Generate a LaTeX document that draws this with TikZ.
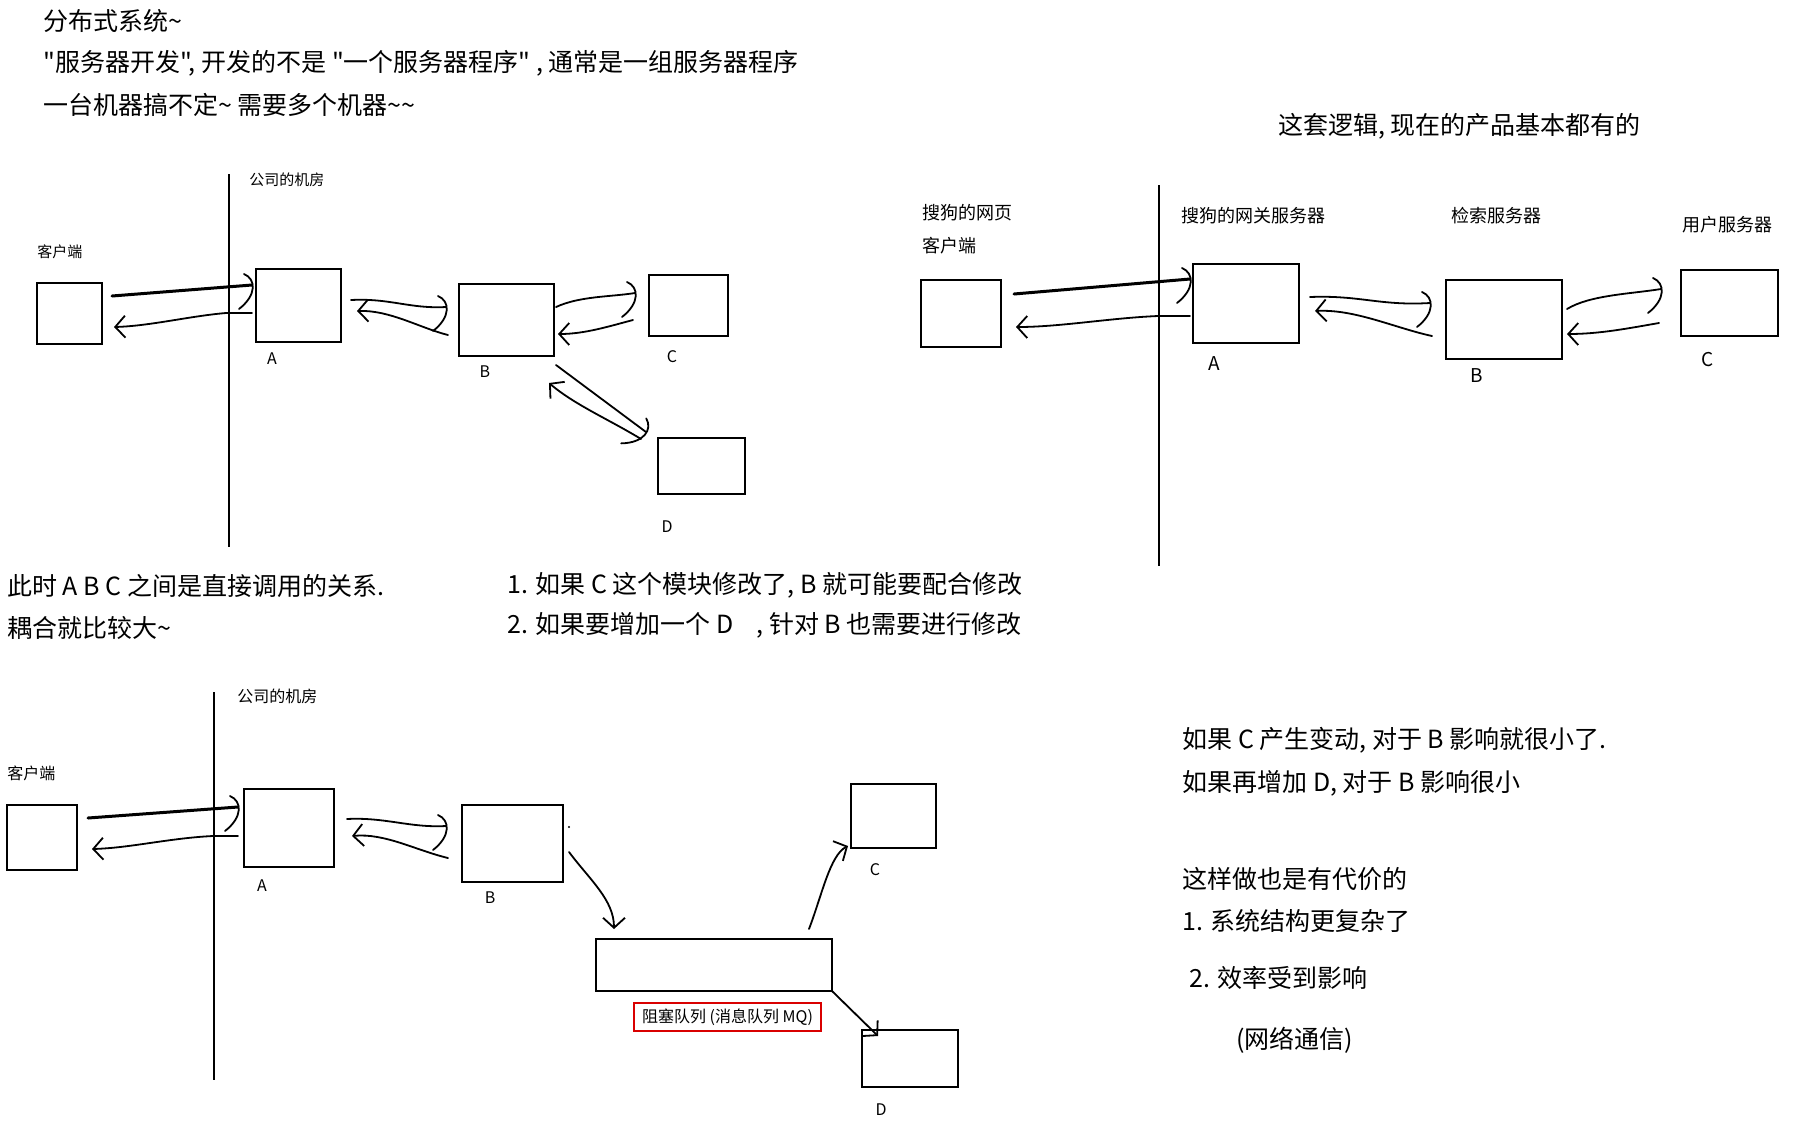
\documentclass[tikz,border=0pt]{standalone}
\usepackage{fontspec}
\setmainfont{Noto Sans CJK SC}[Ligatures=TeXOff]
\usetikzlibrary{arrows.meta}
\newcommand{\qq}{\char"22\relax}
\tikzset{
  bx/.style={draw, line width=1.2pt, inner sep=0pt, outer sep=0pt},
  sz/.style 2 args={minimum width=#1*0.5pt, minimum height=#2*0.5pt},
  lbl/.style={inner sep=0pt, anchor=west},
  big/.style={lbl, font=\fontsize{12.5}{14}\selectfont},
  smA/.style={lbl, font=\fontsize{7.5}{9}\selectfont},
  smB/.style={lbl, font=\fontsize{9}{11}\selectfont},
  smC/.style={lbl, font=\fontsize{8}{10}\selectfont},
  let/.style={inner sep=0pt, font=\fontsize{8}{10}\selectfont},
  wall/.style={line width=1.4pt},
  wire/.style={line width=0.9pt, line cap=round},
  fat/.style={line width=1.5pt, line cap=round},
  barb/.style={-{Straight Barb[length=5pt, width=11pt, line width=0.9pt]}},
  brk/.pic={\draw[wire] (-8,-11) .. controls (4,-6) and (5,10) .. (-13,24);},
}
\begin{document}
\begin{tikzpicture}[x=0.5pt, y=-0.5pt]
\useasboundingbox (0,0) rectangle (1794,1131);
\fill[white] (0,0) rectangle (1794,1131);

% ---------- top texts ----------
\node[big] (t1) at (43,21) {分布式系统\textasciitilde};
\node[big] (t2) at (43,63) {\qq 服务器开发\qq, 开发的不是 \qq 一个服务器程序\qq\ , 通常是一组服务器程序};
\node[big] (t3) at (43,105) {一台机器搞不定\textasciitilde{} 需要多个机器\textasciitilde\textasciitilde};
\node[big] (t4) at (1278,126) {这套逻辑, 现在的产品基本都有的};

% ---------- top-left diagram ----------
\coordinate (tlw1) at (229,174); \coordinate (tlw2) at (229,547);
\draw[wall] (tlw1) -- (tlw2);
\node[smA] (tlroom) at (249,180) {公司的机房};
\node[smA] (tlcli) at (37,252) {客户端};
\node[bx, sz={65}{61}] (tlK) at (69.5,313.5) {};
\node[bx, sz={85}{73}] (tlA) at (298.5,305.5) {};
\node[bx, sz={95}{72}] (tlB) at (506.5,320) {};
\node[bx, sz={79}{61}] (tlC) at (688.5,305.5) {};
\node[bx, sz={87}{56}] (tlD) at (701.5,466) {};
\node[let] (tlAl) at (272,359) {A};
\node[let] (tlBl) at (485,372) {B};
\node[let] (tlCl) at (672,357) {C};
\node[let] (tlDl) at (667,527) {D};

\coordinate (a1) at (112,296); \coordinate (a2) at (252,285);
\draw[fat] (a1) -- (a2); \pic at (a2) {brk};
\coordinate (a3) at (252,313); \coordinate (a4) at (114,327);
\draw[wire, barb] (a3) -- (226,313) .. controls (190,316) and (150,326) .. (a4);
\coordinate (a5) at (351,300); \coordinate (a6) at (446,307);
\draw[wire] (a5) .. controls (390,298) and (410,309) .. (a6); \pic at (a6) {brk};
\coordinate (a7) at (448,335); \coordinate (a8) at (357,311);
\draw[wire, barb] (a7) .. controls (420,328) and (390,310) .. (a8);
\coordinate (a9) at (556,307); \coordinate (a10) at (635,293);
\draw[wire] (a9) .. controls (580,296) and (610,297) .. (a10); \pic at (a10) {brk};
\coordinate (a11) at (633,320); \coordinate (a12) at (558,334);
\draw[wire, barb] (a11) .. controls (610,326) and (585,334) .. (a12);
\coordinate (a13) at (556,365); \coordinate (a14) at (646,432);
\draw[wire] (a13) -- (a14); \pic[rotate=-37] at (a14) {brk};
\coordinate (a15) at (641,439); \coordinate (a16) at (549,383);
\draw[wire, barb] (a15) .. controls (610,420) and (575,405) .. (a16);

% ---------- top-right diagram ----------
\coordinate (trw1) at (1159,185); \coordinate (trw2) at (1159,566);
\draw[wall] (trw1) -- (trw2);
\node[smB] (trpage) at (922,213) {搜狗的网页};
\node[smB] (trcli) at (922,246) {客户端};
\node[smB] (trgw) at (1181,216) {搜狗的网关服务器};
\node[smB] (trse) at (1451,216) {检索服务器};
\node[smB] (trus) at (1682,225) {用户服务器};
\node[bx, sz={80}{67}] (trK) at (961,313.5) {};
\node[bx, sz={106}{79}] (trA) at (1246,303.5) {};
\node[bx, sz={116}{79}] (trB) at (1504,319.5) {};
\node[bx, sz={97}{66}] (trC) at (1729.5,303) {};
\node[let, font=\fontsize{9.5}{11}\selectfont] (trAl) at (1214,364) {A};
\node[let, font=\fontsize{9.5}{11}\selectfont] (trBl) at (1477,376) {B};
\node[let, font=\fontsize{9.5}{11}\selectfont] (trCl) at (1708,360) {C};

\coordinate (b1) at (1014,294); \coordinate (b2) at (1190,279);
\draw[fat] (b1) -- (b2); \pic at (b2) {brk};
\coordinate (b3) at (1190,316); \coordinate (b4) at (1016,327);
\draw[wire, barb] (b3) -- (1158,316) .. controls (1110,318) and (1060,327) .. (b4);
\coordinate (b5) at (1310,297); \coordinate (b6) at (1430,303);
\draw[wire] (b5) .. controls (1360,295) and (1380,306) .. (b6); \pic at (b6) {brk};
\coordinate (b7) at (1432,336); \coordinate (b8) at (1315,311);
\draw[wire, barb] (b7) .. controls (1395,328) and (1355,309) .. (b8);
\coordinate (b9) at (1567,309); \coordinate (b10) at (1661,289);
\draw[wire] (b9) .. controls (1590,295) and (1630,294) .. (b10); \pic at (b10) {brk};
\coordinate (b11) at (1659,323); \coordinate (b12) at (1567,334);
\draw[wire, barb] (b11) .. controls (1630,328) and (1600,334) .. (b12);

% ---------- middle texts ----------
\node[big] (m1) at (7,586) {此时 A B C 之间是直接调用的关系.};
\node[big] (m2) at (7,628) {耦合就比较大\textasciitilde};
\node[big] (m3) at (507,585) {1. 如果 C 这个模块修改了, B 就可能要配合修改};
\node[big] (m4) at (507,625) {2. 如果要增加一个 D \hspace{0.7em}, 针对 B 也需要进行修改};

% ---------- bottom diagram ----------
\coordinate (bw1) at (214,692); \coordinate (bw2) at (214,1080);
\draw[wall] (bw1) -- (bw2);
\node[smC] (broom) at (237,696) {公司的机房};
\node[smC] (bcli) at (7,773) {客户端};
\node[bx, sz={70}{65}] (bK) at (42,837.5) {};
\node[bx, sz={90}{78}] (bA) at (289,828) {};
\node[bx, sz={101}{77}] (bB) at (512.5,843.5) {};
\node[bx, sz={236}{52}] (bQ) at (714,965) {};
\node[bx, sz={85}{64}] (bC) at (893.5,816) {};
\node[bx, sz={96}{57}] (bD) at (910,1058.5) {};
\node[draw=red!85!black, line width=0.8pt, sz={187}{28}, inner sep=0pt,
      font=\fontsize{8}{10}\selectfont] (bMQ) at (727.5,1017) {阻塞队列 (消息队列 MQ)};
\node[let] (bAl) at (262,886) {A};
\node[let] (bBl) at (490,898) {B};
\node[let] (bCl) at (875,870) {C};
\node[let] (bDl) at (881,1110) {D};
\coordinate (dot) at (569,827);
\fill (dot) circle[radius=1.2];

\coordinate (c1) at (88,818); \coordinate (c2) at (238,807);
\draw[fat] (c1) -- (c2); \pic at (c2) {brk};
\coordinate (c3) at (238,836); \coordinate (c4) at (92,849);
\draw[wire, barb] (c3) -- (213,836) .. controls (170,838) and (130,848) .. (c4);
\coordinate (c5) at (347,819); \coordinate (c6) at (446,826);
\draw[wire] (c5) .. controls (385,817) and (410,828) .. (c6); \pic at (c6) {brk};
\coordinate (c7) at (448,858); \coordinate (c8) at (352,836);
\draw[wire, barb] (c7) .. controls (415,850) and (385,833) .. (c8);
\coordinate (c9) at (569,852); \coordinate (c10) at (614,929);
\draw[wire, barb] (c9) .. controls (590,880) and (614,900) .. (c10);
\coordinate (c11) at (809,929); \coordinate (c12) at (848,846);
\draw[wire, barb] (c11) .. controls (822,895) and (830,855) .. (c12);
\coordinate (c13) at (832,991); \coordinate (c14) at (878,1036);
\draw[wire, barb] (c13) -- (c14);

% ---------- bottom-right texts ----------
\node[big] (r1) at (1182,740) {如果 C 产生变动, 对于 B 影响就很小了.};
\node[big] (r2) at (1182,783) {如果再增加 D, 对于 B 影响很小};
\node[big] (r3) at (1182,879) {这样做也是有代价的};
\node[big] (r4) at (1182,921) {1. 系统结构更复杂了};
\node[big] (r5) at (1189,978) {2. 效率受到影响};
\node[big] (r6) at (1236,1040) {(网络通信)};
\end{tikzpicture}
\end{document}
